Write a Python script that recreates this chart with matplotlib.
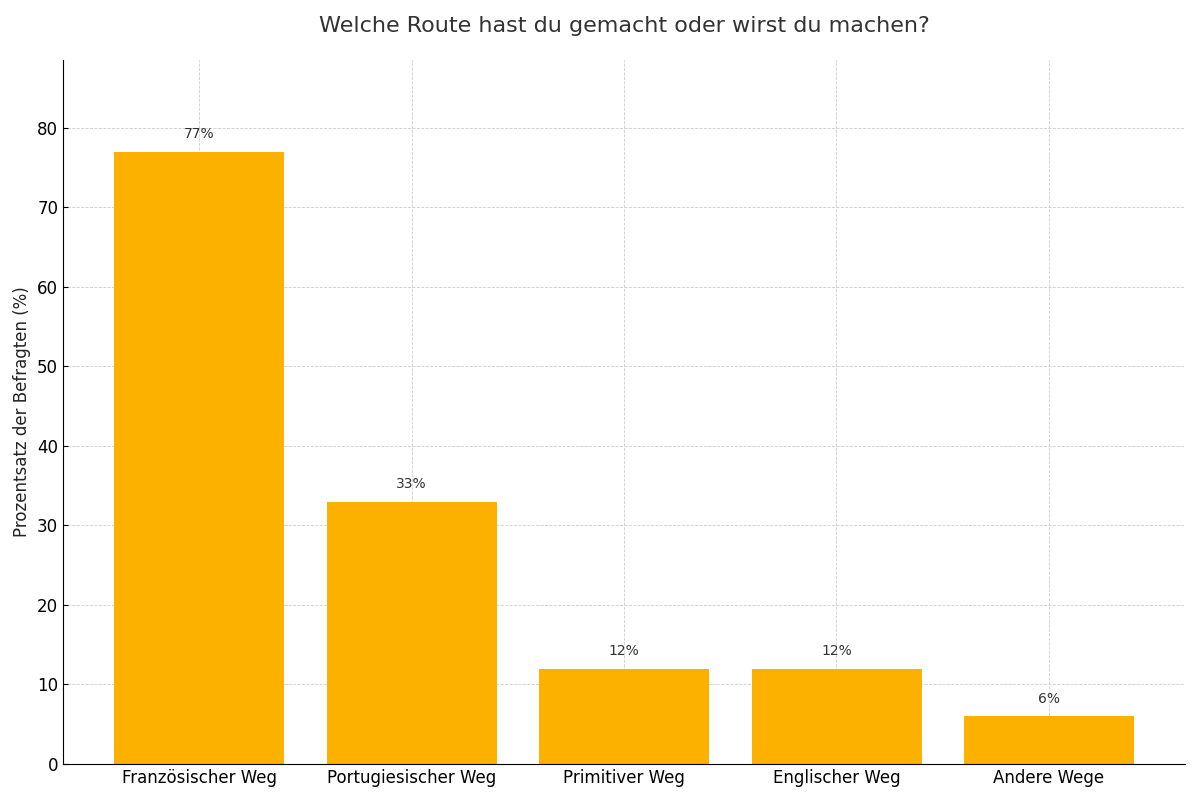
import matplotlib
matplotlib.use("Agg")
import matplotlib.pyplot as plt

categories = ["Französischer Weg", "Portugiesischer Weg", "Primitiver Weg", "Englischer Weg", "Andere Wege"]
values = [77, 33, 12, 12, 6]
title = "Welche Route hast du gemacht oder wirst du machen?"
ylabel = "Prozentsatz der Befragten (%)"

fig, ax = plt.subplots(figsize=(12, 8), dpi=100)
fig.subplots_adjust(left=0.0525, right=0.9875, bottom=0.045, top=0.925)

x = range(len(categories))
bars = ax.bar(x, values, width=0.8, color="#FCB000", zorder=2)
for xi, v in zip(x, values):
    ax.text(xi, v + 1.3, f"{v}%", ha="center", va="bottom", fontsize=10, color="#333333")

ax.set_xticks(list(x))
ax.set_xticklabels(categories, fontsize=12)
ax.tick_params(axis="both", direction="in", labelsize=12)
ax.set_ylim(0, max(values) * 1.15)
ax.set_ylabel(ylabel, fontsize=12, color="#222222")
ax.set_title(title, fontsize=16, color="#333333", pad=20)
ax.grid(True, linestyle="--", linewidth=0.6, color="#cccccc", zorder=0)
ax.set_axisbelow(True)
for s in ["top", "right"]:
    ax.spines[s].set_visible(False)

fig.savefig("out.png", dpi=100)
